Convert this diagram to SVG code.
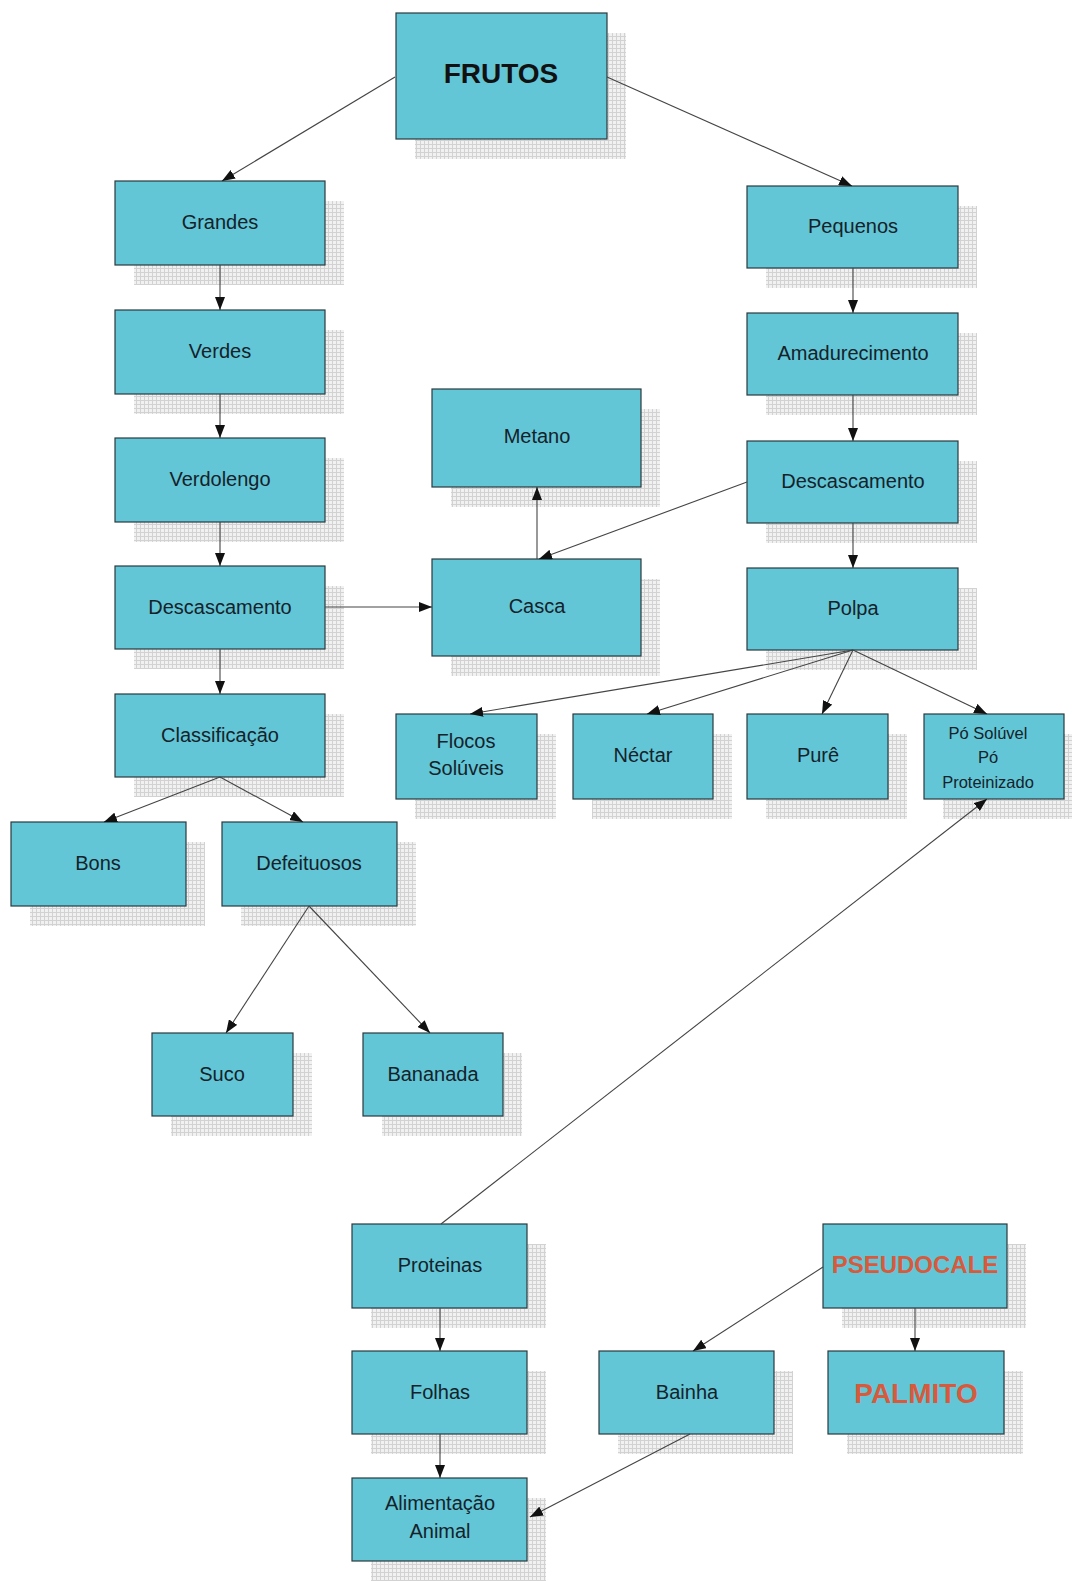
<svg xmlns="http://www.w3.org/2000/svg" width="1072" height="1581" viewBox="0 0 1072 1581">
<style>
.box{fill:#62c6d7;stroke:#2b3a3e;stroke-width:1.2}
.sh{fill:url(#dots)}
.t{font-family:"Liberation Sans",Arial,sans-serif;font-size:20px;fill:#15222a;text-anchor:middle}
.ts{font-family:"Liberation Sans",Arial,sans-serif;font-size:16.5px;fill:#15222a;text-anchor:middle}
.tb{font-family:"Liberation Sans",Arial,sans-serif;font-weight:bold;fill:#111;text-anchor:middle}
.red{fill:#d85a3c}
.c{stroke:#444;stroke-width:1.1;fill:none;marker-end:url(#ah)}
</style>
<defs>
<pattern id="dots" width="4" height="4" patternUnits="userSpaceOnUse">
<rect width="4" height="4" fill="#f1f1f1"/>
<rect width="4" height="1" fill="#d2d2d2"/>
<rect width="1" height="4" fill="#d2d2d2"/>
</pattern>
<marker id="ah" markerWidth="13" markerHeight="10" refX="13" refY="5" orient="auto" markerUnits="userSpaceOnUse">
<path d="M0,0 L13,5 L0,10 z" fill="#111"/>
</marker>
</defs>
<rect width="1072" height="1581" fill="#ffffff"/>

<g id="frutos"><rect class="sh" x="415" y="33" width="211" height="126"/><rect class="box" x="396" y="13" width="211" height="126"/><text class="tb" x="501" y="83" font-size="28">FRUTOS</text></g>
<g id="grandes"><rect class="sh" x="134" y="201" width="210" height="84"/><rect class="box" x="115" y="181" width="210" height="84"/><text class="t" x="220" y="229">Grandes</text></g>
<g id="verdes"><rect class="sh" x="134" y="330" width="210" height="84"/><rect class="box" x="115" y="310" width="210" height="84"/><text class="t" x="220" y="358">Verdes</text></g>
<g id="verdolengo"><rect class="sh" x="134" y="458" width="210" height="84"/><rect class="box" x="115" y="438" width="210" height="84"/><text class="t" x="220" y="486">Verdolengo</text></g>
<g id="descascamento-l"><rect class="sh" x="134" y="586" width="210" height="83"/><rect class="box" x="115" y="566" width="210" height="83"/><text class="t" x="220" y="614">Descascamento</text></g>
<g id="classificacao"><rect class="sh" x="134" y="714" width="210" height="83"/><rect class="box" x="115" y="694" width="210" height="83"/><text class="t" x="220" y="742">Classificação</text></g>
<g id="bons"><rect class="sh" x="30" y="842" width="175" height="84"/><rect class="box" x="11" y="822" width="175" height="84"/><text class="t" x="98" y="870">Bons</text></g>
<g id="defeituosos"><rect class="sh" x="241" y="842" width="175" height="84"/><rect class="box" x="222" y="822" width="175" height="84"/><text class="t" x="309" y="870">Defeituosos</text></g>
<g id="suco"><rect class="sh" x="171" y="1053" width="141" height="83"/><rect class="box" x="152" y="1033" width="141" height="83"/><text class="t" x="222" y="1081">Suco</text></g>
<g id="bananada"><rect class="sh" x="382" y="1053" width="140" height="83"/><rect class="box" x="363" y="1033" width="140" height="83"/><text class="t" x="433" y="1081">Bananada</text></g>

<g id="pequenos"><rect class="sh" x="766" y="206" width="211" height="82"/><rect class="box" x="747" y="186" width="211" height="82"/><text class="t" x="853" y="233">Pequenos</text></g>
<g id="amadurecimento"><rect class="sh" x="766" y="333" width="211" height="82"/><rect class="box" x="747" y="313" width="211" height="82"/><text class="t" x="853" y="360">Amadurecimento</text></g>
<g id="descascamento-r"><rect class="sh" x="766" y="461" width="211" height="82"/><rect class="box" x="747" y="441" width="211" height="82"/><text class="t" x="853" y="488">Descascamento</text></g>
<g id="polpa"><rect class="sh" x="766" y="588" width="211" height="82"/><rect class="box" x="747" y="568" width="211" height="82"/><text class="t" x="853" y="615">Polpa</text></g>
<g id="metano"><rect class="sh" x="451" y="409" width="209" height="98"/><rect class="box" x="432" y="389" width="209" height="98"/><text class="t" x="537" y="443">Metano</text></g>
<g id="casca"><rect class="sh" x="451" y="579" width="209" height="97"/><rect class="box" x="432" y="559" width="209" height="97"/><text class="t" x="537" y="613">Casca</text></g>

<g id="flocos"><rect class="sh" x="415" y="734" width="141" height="85"/><rect class="box" x="396" y="714" width="141" height="85"/><text class="t" x="466" y="748">Flocos</text><text class="t" x="466" y="775">Solúveis</text></g>
<g id="nectar"><rect class="sh" x="592" y="734" width="140" height="85"/><rect class="box" x="573" y="714" width="140" height="85"/><text class="t" x="643" y="762">Néctar</text></g>
<g id="pure"><rect class="sh" x="766" y="734" width="141" height="85"/><rect class="box" x="747" y="714" width="141" height="85"/><text class="t" x="818" y="762">Purê</text></g>
<g id="po"><rect class="sh" x="943" y="734" width="140" height="85"/><rect class="box" x="924" y="714" width="140" height="85"/><text class="ts" x="988" y="739">Pó Solúvel</text><text class="ts" x="988" y="763">Pó</text><text class="ts" x="988" y="788">Proteinizado</text></g>

<g id="proteinas"><rect class="sh" x="371" y="1244" width="175" height="84"/><rect class="box" x="352" y="1224" width="175" height="84"/><text class="t" x="440" y="1272">Proteinas</text></g>
<g id="folhas"><rect class="sh" x="371" y="1371" width="175" height="83"/><rect class="box" x="352" y="1351" width="175" height="83"/><text class="t" x="440" y="1399">Folhas</text></g>
<g id="alimentacao"><rect class="sh" x="371" y="1498" width="175" height="83"/><rect class="box" x="352" y="1478" width="175" height="83"/><text class="t" x="440" y="1510">Alimentação</text><text class="t" x="440" y="1538">Animal</text></g>
<g id="bainha"><rect class="sh" x="618" y="1371" width="175" height="83"/><rect class="box" x="599" y="1351" width="175" height="83"/><text class="t" x="687" y="1399">Bainha</text></g>
<g id="pseudocale"><rect class="sh" x="842" y="1244" width="184" height="84"/><rect class="box" x="823" y="1224" width="184" height="84"/><text class="tb red" x="915" y="1273" font-size="24">PSEUDOCALE</text></g>
<g id="palmito"><rect class="sh" x="847" y="1371" width="176" height="83"/><rect class="box" x="828" y="1351" width="176" height="83"/><text class="tb red" x="916" y="1403" font-size="28">PALMITO</text></g>

<g id="connectors">
<line class="c" x1="395" y1="77" x2="222" y2="181"/>
<line class="c" x1="607" y1="77" x2="852" y2="186"/>
<line class="c" x1="220" y1="265" x2="220" y2="310"/>
<line class="c" x1="220" y1="394" x2="220" y2="438"/>
<line class="c" x1="220" y1="522" x2="220" y2="566"/>
<line class="c" x1="325" y1="607" x2="432" y2="607"/>
<line class="c" x1="220" y1="649" x2="220" y2="694"/>
<line class="c" x1="220" y1="777" x2="104" y2="822"/>
<line class="c" x1="220" y1="777" x2="303" y2="822"/>
<line class="c" x1="309" y1="906" x2="226" y2="1033"/>
<line class="c" x1="309" y1="906" x2="430" y2="1033"/>
<line class="c" x1="853" y1="268" x2="853" y2="313"/>
<line class="c" x1="853" y1="395" x2="853" y2="441"/>
<line class="c" x1="853" y1="523" x2="853" y2="568"/>
<line class="c" x1="747" y1="482" x2="539" y2="559"/>
<line class="c" x1="537" y1="559" x2="537" y2="487"/>
<line class="c" x1="853" y1="650" x2="470" y2="714"/>
<line class="c" x1="853" y1="650" x2="647" y2="714"/>
<line class="c" x1="853" y1="650" x2="822" y2="714"/>
<line class="c" x1="853" y1="650" x2="987" y2="714"/>
<line class="c" x1="441" y1="1224" x2="987" y2="799"/>
<line class="c" x1="440" y1="1308" x2="440" y2="1351"/>
<line class="c" x1="440" y1="1434" x2="440" y2="1478"/>
<line class="c" x1="823" y1="1267" x2="693" y2="1351"/>
<line class="c" x1="915" y1="1308" x2="915" y2="1351"/>
<line class="c" x1="690" y1="1434" x2="530" y2="1517"/>
</g>
</svg>
